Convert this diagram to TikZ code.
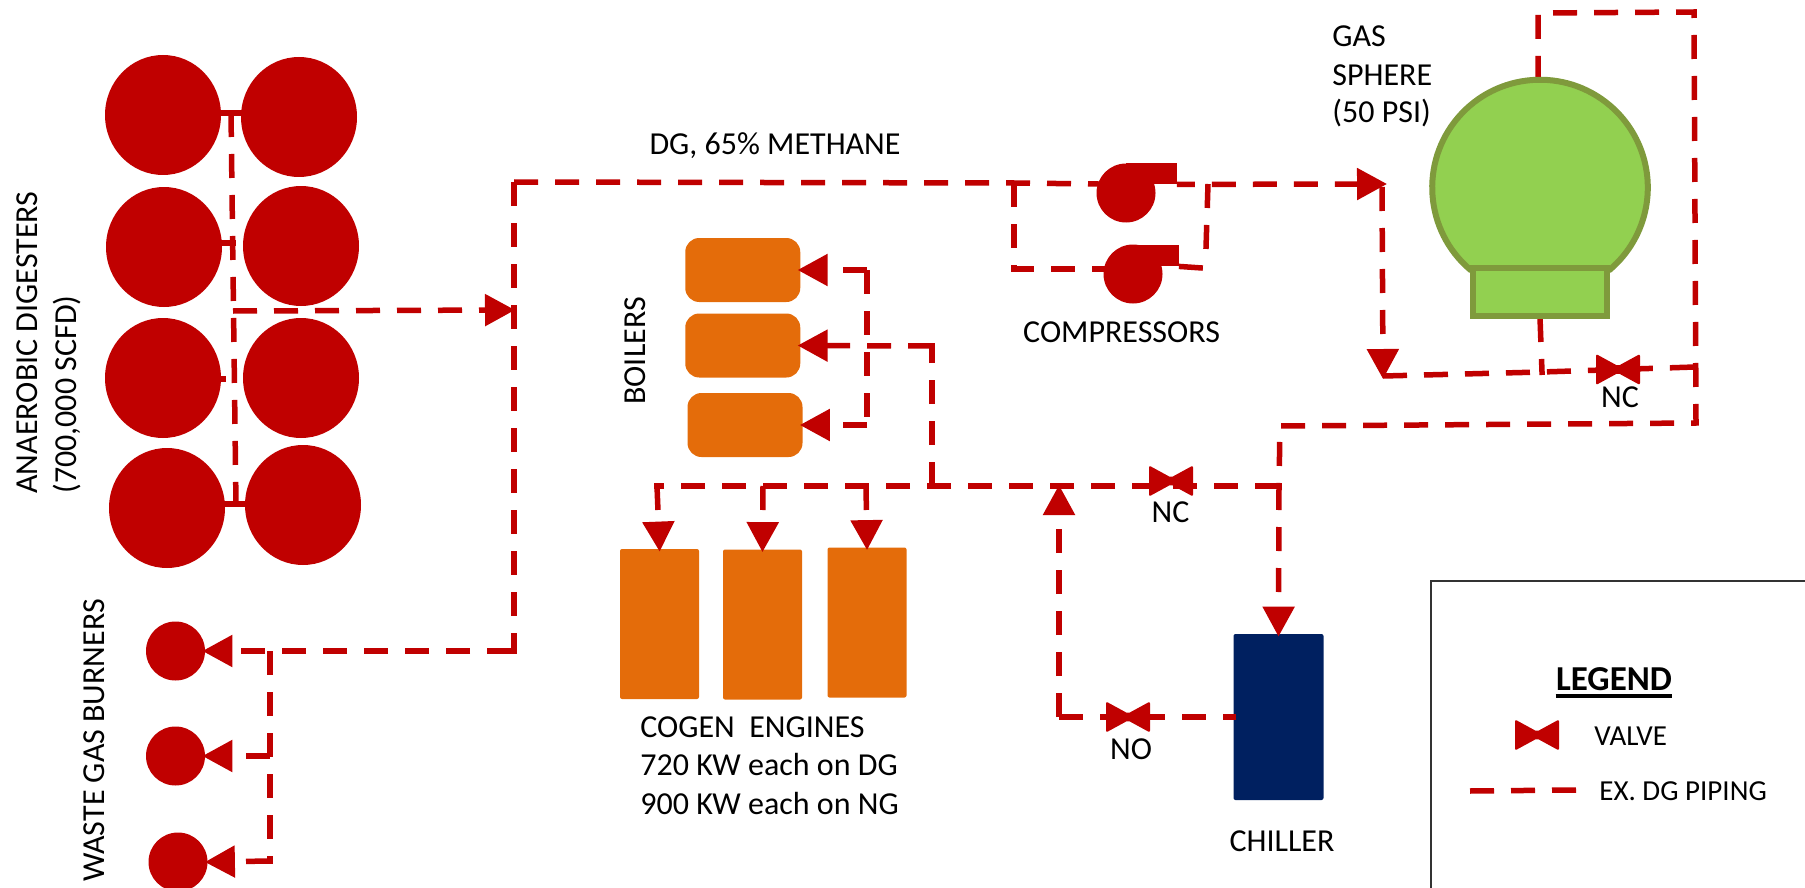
\documentclass[tikz,border=0pt]{standalone}
\usepackage{fontspec}
\setmainfont{Carlito}
\usetikzlibrary{arrows.meta,shapes.geometric}
\definecolor{pipered}{HTML}{C00000}
\definecolor{engorange}{HTML}{E46C0A}
\definecolor{chillblue}{HTML}{002060}
\definecolor{gasgreen}{HTML}{92D050}
\definecolor{gasedge}{HTML}{7F9A3C}
\tikzset{
  >={Triangle[length=15pt,width=15.5pt]},
  pipe/.style={draw=pipered,line width=2.75pt,dash pattern=on 12pt off 8.5pt,line join=miter,line cap=butt,shorten >=-1.5pt},
  stub/.style={draw=pipered,line width=2.75pt},
  digester/.style={ellipse,fill=pipered,inner sep=0,minimum width=58pt,minimum height=60pt},
  burner/.style={ellipse,fill=pipered,inner sep=0,minimum width=29.5pt,minimum height=29.5pt},
  compbody/.style={circle,fill=pipered,inner sep=0,minimum size=29.5pt},
  duct/.style={rectangle,fill=pipered,inner sep=0,minimum width=25.5pt,minimum height=10.5pt},
  boiler/.style={rectangle,fill=engorange,inner sep=0,rounded corners=7pt,minimum width=57.5pt,minimum height=32pt},
  engine/.style={rectangle,fill=engorange,inner sep=0,rounded corners=1pt,minimum width=39.5pt,minimum height=75pt},
  lbl/.style={inner sep=0,font=\fontsize{16}{19.5}\selectfont,text=black},
  smalllbl/.style={inner sep=0,font=\fontsize{14.5}{18}\selectfont,text=black},
  valve/.pic={\fill[pipered,rounded corners=1pt] (-22,-15.5)--(0,-3.5)--(22,-15.5)--(22,15.5)--(0,3.5)--(-22,15.5)--cycle;}
}
\begin{document}
\begin{tikzpicture}[x=0.5pt,y=-0.5pt]
\useasboundingbox (0,0) rectangle (1805,888);
% named junctions
\coordinate (hT) at (231,113);
\coordinate (hB) at (236,505);
\coordinate (hM) at (233,311);
\coordinate (s1a) at (218,113);
\coordinate (s1b) at (244,113);
\coordinate (s2a) at (218,243);
\coordinate (h2) at (236,243);
\coordinate (s3a) at (218,379);
\coordinate (h3) at (226,379);
\coordinate (s4a) at (222,504);
\coordinate (s4b) at (248,504);
\coordinate (mainIn) at (512,310);
\coordinate (cTL) at (514,182);
\coordinate (cBL) at (514,651);
\coordinate (wb) at (270,651);
\coordinate (wb2) at (270,756);
\coordinate (wb3) at (270,861);
\coordinate (j1) at (1014,183);
\coordinate (j1c) at (1098,184);
\coordinate (j1b) at (1014,269);
\coordinate (j1d) at (1106,269);
\coordinate (j2) at (1208,184);
\coordinate (j2b) at (1206,248);
\coordinate (j2c) at (1202,268);
\coordinate (j3) at (1384,184);
\coordinate (j3b) at (1382,187);
\coordinate (j4) at (1383,376);
\coordinate (j5) at (1542,372);
\coordinate (j6) at (1695,367);
\coordinate (tL) at (1538,13);
\coordinate (tR) at (1694,12);
\coordinate (bR) at (1696,423);
\coordinate (bL) at (1280,426);
\coordinate (k1) at (1279,486);
\coordinate (k2) at (1059,488);
\coordinate (k3) at (932,486);
\coordinate (k4) at (932,346);
\coordinate (k5) at (866,486);
\coordinate (k6) at (763,486);
\coordinate (k7) at (657,486);
\coordinate (k8) at (867,270);
\coordinate (k9) at (867,425);
\coordinate (k10) at (1059,717);
\coordinate (v1) at (1618,369.5);
\coordinate (v2) at (1171,481);
\coordinate (v3) at (1128,717);
\coordinate (v4) at (1537,735);
\coordinate (la) at (1470,791);
\coordinate (lb) at (1576,790);
\coordinate (lg1) at (1431,888);
\coordinate (lg2) at (1431,581);
\coordinate (lg3) at (1805,581);
\coordinate (gc) at (1470,269.5);
\coordinate (gtop) at (1538,80);
\coordinate (gbot) at (1540,318);
% shapes
\node[digester] (d1l) at (163,115) {};
\node[digester] (d1r) at (299,117) {};
\node[digester] (d2l) at (164,247) {};
\node[digester] (d2r) at (301,246) {};
\node[digester] (d3l) at (163,378) {};
\node[digester] (d3r) at (301,378) {};
\node[digester] (d4l) at (167,508) {};
\node[digester] (d4r) at (303,505) {};
\node[burner] (b1) at (175.5,651) {};
\node[burner] (b2) at (175.5,756) {};
\node[burner] (b3) at (178,862) {};
\node[compbody] (c1) at (1126,193) {};
\node[duct] (c1d) at (1151,173.5) {};
\node[compbody] (c2) at (1133,274) {};
\node[duct] (c2d) at (1153,255.5) {};
\node[boiler] (bo1) at (742.75,270) {};
\node[boiler] (bo2) at (742.75,345.5) {};
\node[boiler] (bo3) at (745,425) {};
\node[engine] (e1) at (659.5,624) {};
\node[engine] (e2) at (762.5,624.5) {};
\node[engine] (e3) at (867,622.5) {};
\node[rectangle,fill=chillblue,inner sep=0,rounded corners=1pt,minimum width=45pt,minimum height=83pt] (ch) at (1278.5,717) {};
% pipes
\draw[pipe] (hT)--(hB);
\draw[stub] (s1a)--(s1b);
\draw[stub] (s2a)--(h2);
\draw[stub] (s3a)--(h3);
\draw[stub] (s4a)--(s4b);
\draw[pipe,->] (hM)--(mainIn);
\draw[pipe] (cTL)--(cBL);
\draw[pipe,->,dash phase=19pt] (cBL)--(b1.east);
\draw[pipe] (cTL)--(j1)--(j1c);
\draw[pipe] (j1)--(j1b)--(j1d);
\draw[pipe] (c2d.south east)--(j2c);
\draw[pipe] (j2)--(j2b);
\draw[pipe,->,dash phase=3pt] (c1d.south east)--(j3);
\draw[pipe,->] (j3b)--(j4);
\draw[pipe] (j4)--(j5)--(v1)--(j6);
\draw[pipe] (gbot)--(j5);
\draw[pipe] (gtop)--(tL)--(tR)--(bR)--(bL)--(k1);
\draw[pipe,->] (k1)--(ch.north);
\draw[pipe] (k1)--(k7);
\draw[pipe,->] (k7)--(e1.north);
\draw[pipe,->] (k6)--(e2.north);
\draw[pipe,->] (k5)--(e3.north);
\draw[pipe] (k3)--(k4);
\draw[pipe,->] (k4)--(bo2.east);
\draw[pipe,->] (k8)--(bo1.east);
\draw[pipe] (k8)--(k9);
\draw[pipe,->] (k9)--(bo3.east);
\draw[pipe,->] (k10)--(k2);
\draw[pipe] (k10)--(ch.west);
\draw[pipe] (wb)--(wb3);
\draw[pipe,->] (wb2)--(b2.east);
\draw[pipe,->] (wb3)--(b3.east);
\draw[pipe] (la)--(lb);
% sphere
\filldraw[fill=gasgreen,draw=gasedge,line width=3pt] (gc) arc[start angle=130.5,end angle=409.5,radius=107.8] -- cycle;
\node[rectangle,fill=gasgreen,draw=gasedge,line width=3pt,inner sep=0,minimum width=67pt,minimum height=24pt] (sb) at (1540,292) {};
% valves
\pic at (v1) {valve};
\pic at (v2) {valve};
\pic at (v3) {valve};
\pic at (v4) {valve};
% legend box
\draw[draw=black!80,line width=1.25pt] (lg1)--(lg2)--(lg3);
% labels
\node[lbl,rotate=90,anchor=west] (t1) at (27,494) {ANAEROBIC DIGESTERS};
\node[lbl,rotate=90,anchor=west] (t2) at (67,494) {(700,000 SCFD)};
\node[lbl,rotate=90,anchor=west] (t3) at (94,882) {WASTE GAS BURNERS};
\node[lbl,rotate=90,anchor=west] (t4) at (635,405) {BOILERS};
\node[lbl] (t5) at (775,146) {DG, 65\% METHANE};
\node[lbl] (t6) at (1121.6,332) {COMPRESSORS};
\node[lbl,anchor=west] (t7a) at (1332,36) {GAS};
\node[lbl,anchor=west] (t7b) at (1332,75) {SPHERE};
\node[lbl,anchor=west] (t7c) at (1332,113) {(50 PSI)};
\node[lbl] (t8) at (1620,397) {NC};
\node[lbl] (t9) at (1170.5,512) {NC};
\node[lbl] (t10) at (1131,749) {NO};
\node[lbl] (t11) at (1282,841) {CHILLER};
\node[lbl,anchor=west] (t12a) at (640,727) {COGEN\ \ ENGINES};
\node[lbl,anchor=west] (t12b) at (640,765) {720 KW each on DG};
\node[lbl,anchor=west] (t12c) at (640,804) {900 KW each on NG};
\node[inner sep=0,font=\fontsize{17.5}{20}\selectfont\bfseries] (t13) at (1614,679) {LEGEND};
\draw[black,line width=1.6pt] ([yshift=-2.5pt]t13.south west)--([yshift=-2.5pt]t13.south east);
\node[smalllbl,anchor=west] (t14) at (1594,736) {VALVE};
\node[smalllbl,anchor=west] (t15) at (1599,791) {EX. DG PIPING};
\end{tikzpicture}
\end{document}
